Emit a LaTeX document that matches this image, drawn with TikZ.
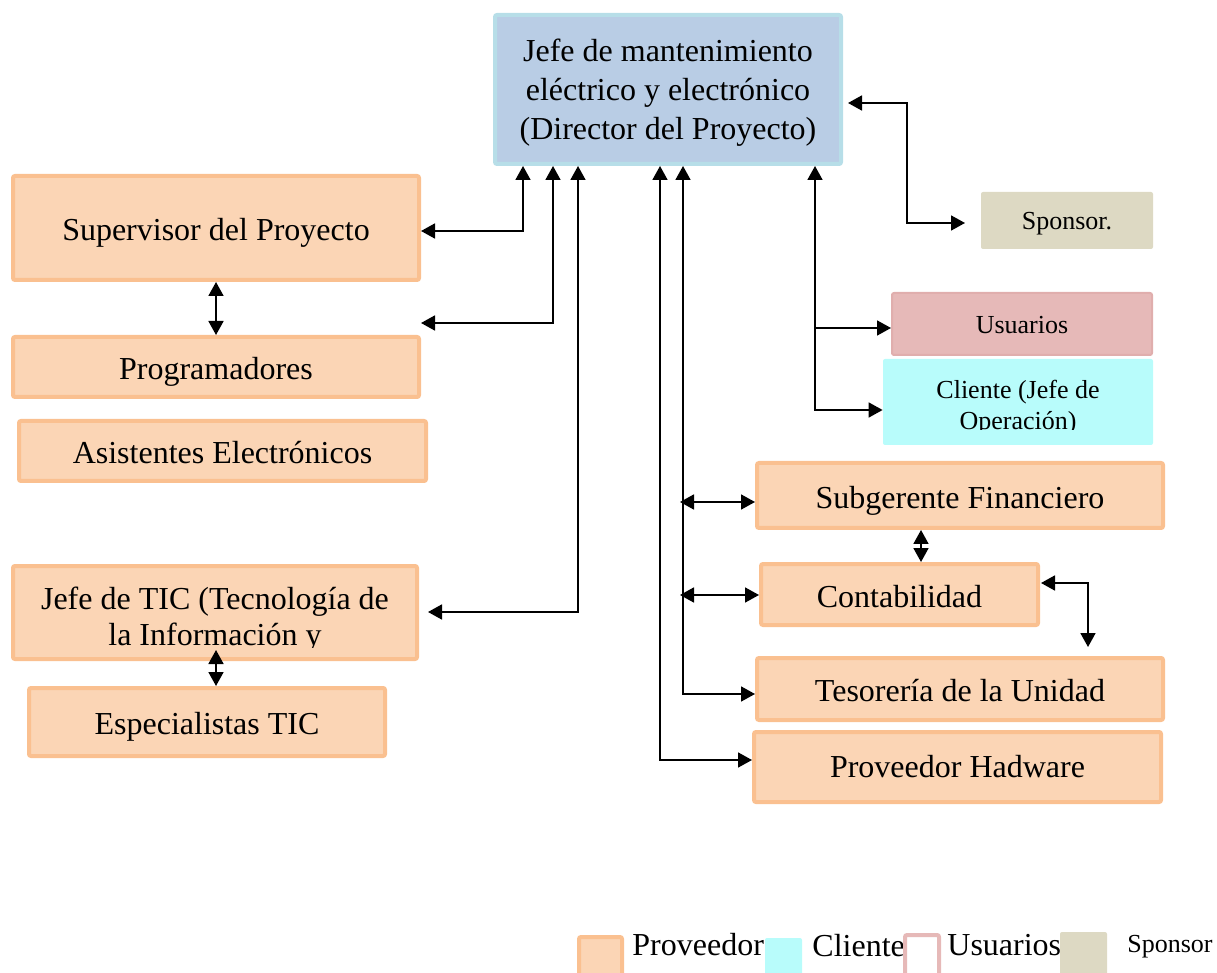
\documentclass[tikz,border=0pt]{standalone}
\usepackage{fontspec}
\setmainfont{Liberation Serif}
\usetikzlibrary{arrows.meta}

\definecolor{provF}{HTML}{FBD5B5}
\definecolor{provB}{HTML}{FAC090}
\definecolor{dirF}{HTML}{B9CDE5}
\definecolor{dirB}{HTML}{B7DEE8}
\definecolor{sponF}{HTML}{DDD9C3}
\definecolor{usuF}{HTML}{E6B9B8}
\definecolor{usuB}{HTML}{E0AEAD}
\definecolor{cliF}{HTML}{B8FCFB}

\newcommand\txtA{\fontsize{16}{19.5}\selectfont}
\newcommand\txtB{\fontsize{13}{15}\selectfont}

\tikzset{
  prov/.style={draw=provB, fill=provF, line width=2pt, rounded corners=1pt,
    inner sep=0pt, align=center, font=\txtA},
  oneline/.style={text height=16pt, text depth=3.4pt},
  smallline/.style={text height=12pt, text depth=2.6pt},
  dirbox/.style={draw=dirB, fill=dirF, line width=2pt, rounded corners=1pt,
    inner sep=0pt, align=center, font=\txtA},
  plain/.style={inner sep=0pt, align=center},
  tip/.tip={Triangle[length=7pt,width=7.5pt]},
  link/.style={line width=0.9pt, -tip},
  both/.style={line width=0.9pt, tip-tip},
}

\begin{document}
\begin{tikzpicture}[x=0.5pt, y=-0.5pt]
\useasboundingbox (0,0) rectangle (1217,973);

% director
\node[dirbox, minimum width=173pt, minimum height=74.5pt, text depth=0.5pt] (dir) at (668,89.5)
  {Jefe de mantenimiento\\eléctrico y electrónico\\(Director del Proyecto)};

% left column
\node[prov, oneline, minimum width=203pt, minimum height=52pt] (sup) at (216,228) {Supervisor del Proyecto};
\node[prov, oneline, minimum width=203pt, minimum height=30pt] (prog) at (216,367) {Programadores};
\node[prov, oneline, minimum width=203.5pt, minimum height=30pt] (asis) at (222.5,451) {Asistentes Electrónicos};
\node[prov, minimum width=202pt, minimum height=46.5pt] (tic) at (215,612.5) {};
\begin{scope}
  \clip (11,564) rectangle (419,647);
  \node[plain, font=\fontsize{16}{18}\selectfont] (tictext) at (215,620)
    {Jefe de TIC (Tecnología de\\la Información y};
\end{scope}
\node[prov, oneline, minimum width=178pt, minimum height=34pt] (esp) at (207,722) {Especialistas TIC};

% right column
\node[plain, smallline, fill=sponF, rounded corners=1pt, minimum width=86pt, minimum height=28.5pt, font=\txtB]
  (spon) at (1067,220.5) {Sponsor.};
\node[plain, smallline, draw=usuB, fill=usuF, line width=1pt, rounded corners=1pt, minimum width=130pt,
  minimum height=31pt, font=\txtB] (usu) at (1022,324) {Usuarios};
\node[plain, fill=cliF, rounded corners=1pt, minimum width=135pt, minimum height=43pt] (cli) at (1018,402) {};
\begin{scope}
  \clip (883,359) rectangle (1153,430);
  \node[plain, font=\fontsize{13}{15.5}\selectfont] (clitext) at (1018,408) {Cliente (Jefe de\\Operación)};
\end{scope}
\node[prov, oneline, minimum width=203pt, minimum height=32.5pt] (sub) at (960,495.5) {Subgerente Financiero};
\node[prov, oneline, minimum width=138.5pt, minimum height=30.5pt] (cont) at (899.5,594.5) {Contabilidad};
\node[prov, oneline, minimum width=203pt, minimum height=31pt] (tes) at (960,689) {Tesorería de la Unidad};
\node[prov, oneline, text height=13.5pt, minimum width=203.5pt, minimum height=35pt] (hw) at (957.5,767) {Proveedor Hadware};

% free ends and junctions
\coordinate (progtip) at (421,323);
\coordinate (tictip) at (428,612);
\coordinate (tictop) at (216,650);
\coordinate (dirtip) at (848,103);
\coordinate (spontip) at (965,223);
\coordinate (usujoin) at (816,328);
\coordinate (jsub) at (680,502);
\coordinate (jcont) at (680,595);
\coordinate (contout) at (1041,583);
\coordinate (tesin) at (1088,647);

% connectors to the director
\draw[both] (sup.east |- 0,231) -| (523,0 |- dir.south);
\draw[both] (progtip) -| (553,0 |- dir.south);
\draw[both] (tictip) -| (578,0 |- dir.south);
\draw[both] (660,0 |- dir.south) |- (hw.west |- 0,760);
\draw[both] (683,0 |- dir.south) |- (tes.west |- 0,694);
\draw[both] (815,0 |- dir.south) |- (cli.west |- 0,410);
\draw[link] (usujoin) -- (usu.west |- usujoin);
\draw[both] (dirtip) -| (907,0 |- spontip) -- (spontip);

% links between units
\draw[both] (sup.south) -- (prog.north);
\draw[both] (tictop) -- (216,0 |- esp.north);
\draw[both] (jsub) -- (sub.west |- jsub);
\draw[both] (jcont) -- (cont.west |- jcont);
\draw[both] (921,0 |- sub.south) -- (921,0 |- cont.north);
\draw[both] (contout) -| (tesin);

% legend
\node[prov, minimum width=21.5pt, minimum height=23pt] (lgprov) at (600.5,960) {};
\node[anchor=base west, inner sep=0pt, font=\txtA] (lgprovt) at (632,955) {Proveedor};
\node[plain, fill=cliF, rounded corners=1pt, minimum width=18.5pt, minimum height=25pt] (lgcli) at (783.5,963) {};
\node[anchor=base west, inner sep=0pt, font=\txtA] (lgclit) at (812,956) {Cliente};
\node[plain, draw=usuF, fill=white, line width=2pt, rounded corners=1pt, minimum width=17pt,
  minimum height=23pt] (lgusu) at (922,958) {};
\node[anchor=base west, inner sep=0pt, font=\txtA] (lgusut) at (947,955) {Usuarios};
\node[plain, fill=sponF, rounded corners=1pt, minimum width=23.5pt, minimum height=25pt] (lgspon) at (1083.5,957) {};
\node[anchor=base west, inner sep=0pt, font=\txtB] (lgspont) at (1127,952) {Sponsor};
\end{tikzpicture}
\end{document}
